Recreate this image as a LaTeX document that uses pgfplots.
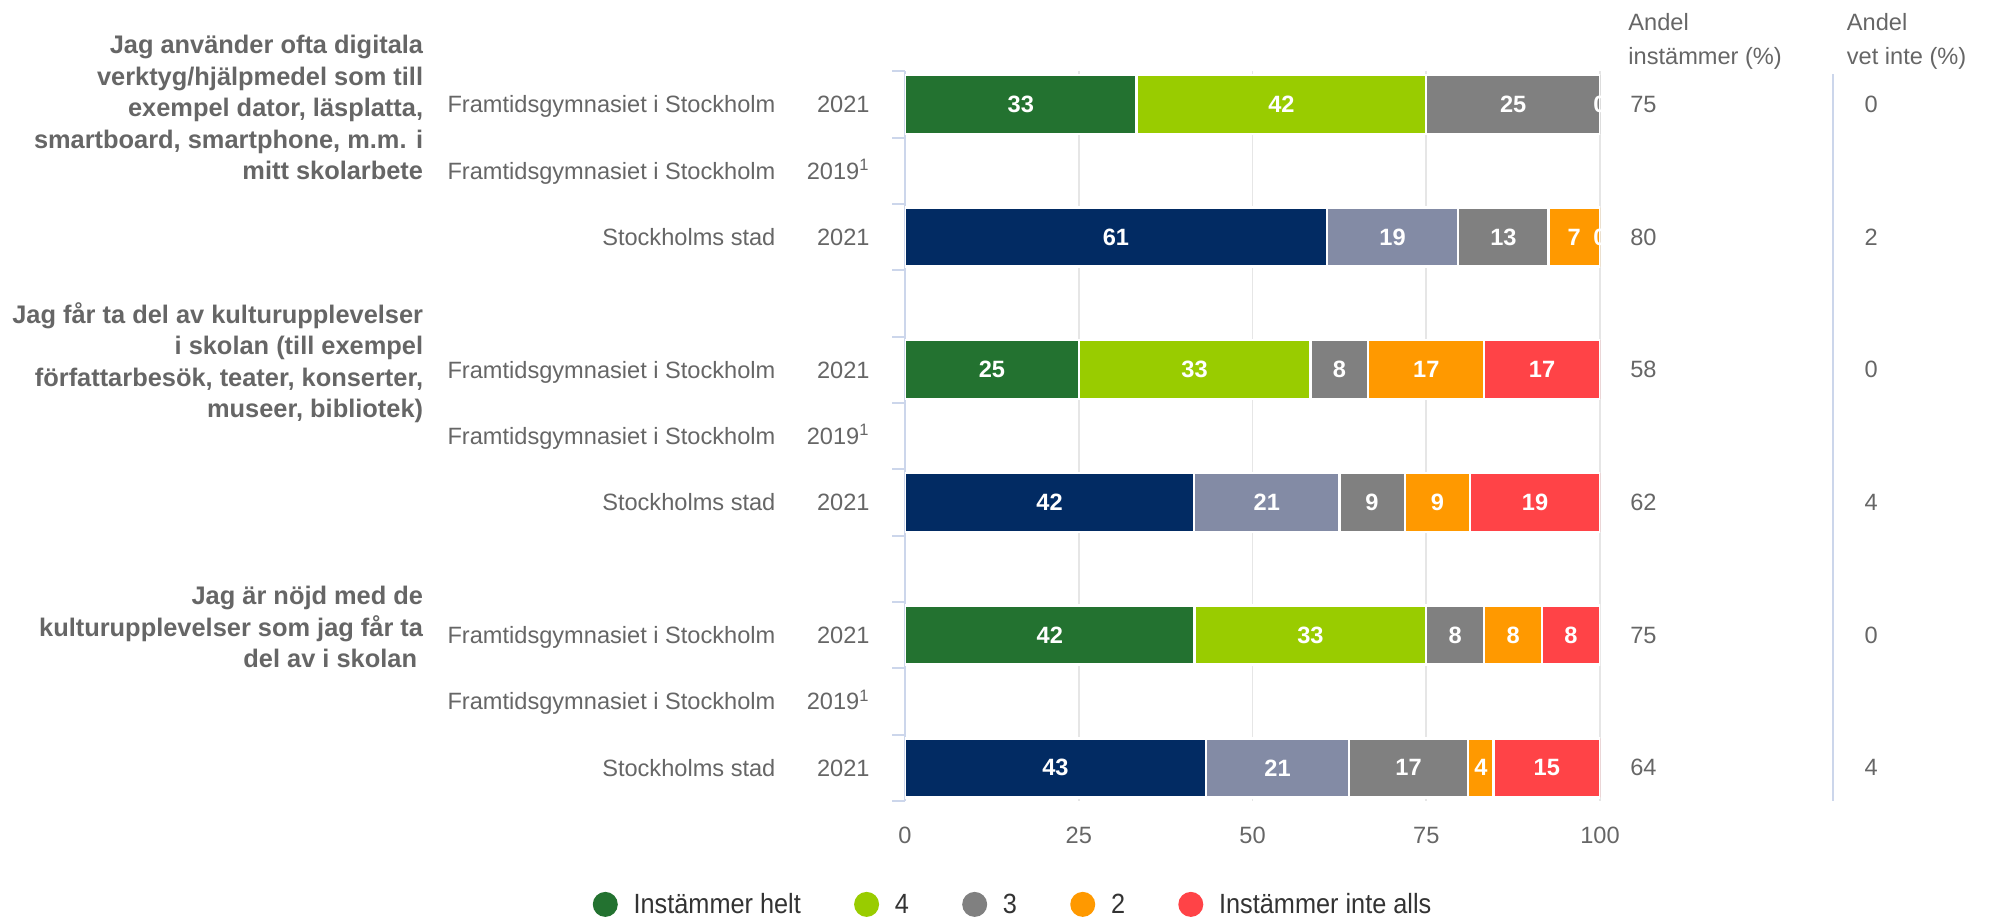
\documentclass[border=0pt]{standalone}
\usepackage{pgfplots}
\pgfplotsset{compat=1.18}
\usepackage{pgfplotstable}
\usepackage{fontspec}
\setmainfont{Liberation Sans}
\newfontfamily\legfont[FakeStretch=0.91]{Liberation Sans}
\definecolor{dgreen}{HTML}{237230}
\definecolor{lgreen}{HTML}{99CC00}
\definecolor{mgray}{HTML}{808080}
\definecolor{orng}{HTML}{FF9900}
\definecolor{rred}{HTML}{FF4347}
\definecolor{navy}{HTML}{022B63}
\definecolor{slate}{HTML}{838BA5}
\definecolor{axblue}{HTML}{CCD6EB}
\definecolor{gridc}{HTML}{E6E6E6}
\definecolor{txt}{HTML}{666666}
\definecolor{ltxt}{HTML}{333333}
\newcommand\fs{\fontsize{11.8}{14.2}\selectfont}

\pgfplotstableread{
y helt fyra tre tva inte
10 33.33 41.67 25 0 0
6 25 33.33 8.33 16.67 16.67
2 41.67 33.33 8.33 8.33 8.33
}\framtids
\pgfplotstableread{
y helt fyra tre tva inte
8 60.7 18.9 13 7.4 0
4 41.6 20.9 9.4 9.4 18.7
0 43.3 20.6 17.1 3.7 15.3
}\stad
\pgfplotstableread{
x y lab
16.67 10 33
54.17 10 42
87.5 10 25
100 10 0
30.35 8 61
70.15 8 19
86.1 8 13
96.3 8 7
100 8 0
12.5 6 25
41.67 6 33
62.5 6 8
75 6 17
91.67 6 17
20.8 4 42
52.05 4 21
67.2 4 9
76.6 4 9
90.65 4 19
20.83 2 42
58.33 2 33
79.17 2 8
87.5 2 8
95.83 2 8
21.65 0 43
53.6 0 21
72.45 0 17
82.85 0 4
92.35 0 15
}\seglabels
\pgfplotstableread{
x y lab
104.3 10 75
104.3 8 80
104.3 6 58
104.3 4 62
104.3 2 75
104.3 0 64
138.0 10 0
138.0 8 2
138.0 6 0
138.0 4 4
138.0 2 0
138.0 0 4
}\sidevalues

\newcommand\rl[2]{\makebox[0pt][r]{#1}\hspace{47.1pt}\makebox[0pt][r]{#2}}

\pgfplotsset{
  base/.style={at={(452.5pt,59.5pt)}, anchor=south west, scale only axis,
    width=347.5pt, height=364.9pt, xmin=0, xmax=100, ymin=-0.5, ymax=10.5},
  circleg/.style={legend image code/.code={\fill[##1, draw=none] (6.25pt,0.3pt) circle (6.25pt);}},
  segs/.style={draw=white, line width=1.2pt},
}

\begin{document}
\begin{tikzpicture}
\useasboundingbox (0,0) rectangle (997pt,460pt);

% main axis: Framtidsgymnasiet bars, grid, ticks, legend
\begin{axis}[base,
  xbar stacked, bar width=29.5pt,
  axis x line*=bottom, axis y line*=left,
  x axis line style={draw=none},
  y axis line style={draw=axblue, line width=1pt},
  xtick={0,25,50,75,100},
  xmajorgrids, major x grid style={draw=gridc, line width=0.8pt},
  x tick style={draw=none},
  ytick={0,1,2,4,5,6,8,9,10},
  yticklabels={\rl{Stockholms stad}{2021},
               \rl{Framtidsgymnasiet i Stockholm}{2019\textsuperscript{1}},
               \rl{Framtidsgymnasiet i Stockholm}{2021},
               \rl{Stockholms stad}{2021},
               \rl{Framtidsgymnasiet i Stockholm}{2019\textsuperscript{1}},
               \rl{Framtidsgymnasiet i Stockholm}{2021},
               \rl{Stockholms stad}{2021},
               \rl{Framtidsgymnasiet i Stockholm}{2019\textsuperscript{1}},
               \rl{Framtidsgymnasiet i Stockholm}{2021}},
  minor ytick={-0.5,0.5,1.5,2.5,3.5,4.5,5.5,6.5,7.5,8.5,9.5,10.5},
  tick align=outside,
  major tick length=0pt, minor tick length=6.5pt,
  y tick style={draw=axblue, line width=1pt},
  /pgf/number format/assume math mode=true,
  xticklabel style={font=\fs, text=txt, anchor=north, inner sep=0pt, yshift=-13pt},
  yticklabel style={font=\fs, text=txt, anchor=base east, inner sep=0pt, xshift=-17.5pt, yshift=-4.2pt},
  legend style={at={(0.157,-0.1425)}, anchor=center, draw=none, fill=none,
    font=\legfont\fontsize{13.9}{16}\selectfont, text=ltxt, legend columns=5,
    /tikz/every even column/.append style={column sep=24.6pt},
    /tikz/every odd column/.append style={column sep=5.9pt}},
  legend cell align=left,
]
\addplot[fill=dgreen, segs, circleg] table[x=helt,y=y]{\framtids};
\addlegendentry{Instämmer helt}
\addplot[fill=lgreen, segs, circleg] table[x=fyra,y=y]{\framtids};
\addlegendentry{4}
\addplot[fill=mgray, segs, circleg] table[x=tre,y=y]{\framtids};
\addlegendentry{3}
\addplot[fill=orng, segs, circleg] table[x=tva,y=y]{\framtids};
\addlegendentry{2}
\addplot[fill=rred, segs, circleg] table[x=inte,y=y]{\framtids};
\addlegendentry{Instämmer inte alls}
\end{axis}

% Stockholms stad bars
\begin{axis}[base, hide axis, xbar stacked, bar width=29.5pt]
\addplot[fill=navy, segs] table[x=helt,y=y]{\stad};
\addplot[fill=slate, segs] table[x=fyra,y=y]{\stad};
\addplot[fill=mgray, segs] table[x=tre,y=y]{\stad};
\addplot[fill=orng, segs] table[x=tva,y=y]{\stad};
\addplot[fill=rred, segs] table[x=inte,y=y]{\stad};
\end{axis}

% labels
\begin{axis}[base, hide axis, clip=false]
\addplot[draw=none, mark=none, nodes near coords, point meta=explicit symbolic,
  every node near coord/.append style={anchor=center, inner sep=0pt, text=white,
  font=\bfseries\fs}] table[x=x,y=y,meta=lab]{\seglabels};
\addplot[draw=none, mark=none, nodes near coords, point meta=explicit symbolic,
  every node near coord/.append style={anchor=west, inner sep=0pt, text=txt,
  font=\fs}] table[x=x,y=y,meta=lab]{\sidevalues};
\end{axis}

\draw[axblue, line width=1pt] (916.25pt,59.5pt) -- (916.25pt,423.1pt);

\node[anchor=west, align=left, inner sep=0pt, text=txt, font=\fontsize{11.8}{17.2}\selectfont]
  at (814pt,439.4pt) {Andel\\instämmer (\%)};
\node[anchor=west, align=left, inner sep=0pt, text=txt, font=\fontsize{11.8}{17.2}\selectfont]
  at (923.25pt,439.4pt) {Andel\\vet inte (\%)};

\node[anchor=east, align=right, inner sep=0pt, text=txt, font=\bfseries\fontsize{12.7}{15.75}\selectfont]
  at (211.75pt,406.25pt) {Jag använder ofta digitala\\verktyg/hjälpmedel som till\\exempel dator, läsplatta,\\smartboard, smartphone, m.m. i\\mitt skolarbete};
\node[anchor=east, align=right, inner sep=0pt, text=txt, font=\bfseries\fontsize{12.7}{15.75}\selectfont]
  at (211.75pt,278.7pt) {Jag får ta del av kulturupplevelser\\i skolan (till exempel\\författarbesök, teater, konserter,\\museer, bibliotek)};
\node[anchor=east, align=right, inner sep=0pt, text=txt, font=\bfseries\fontsize{12.7}{15.75}\selectfont]
  at (211.75pt,146.5pt) {Jag är nöjd med de\\kulturupplevelser som jag får ta\\del av i skolan\kern3pt};
\end{tikzpicture}
\end{document}
